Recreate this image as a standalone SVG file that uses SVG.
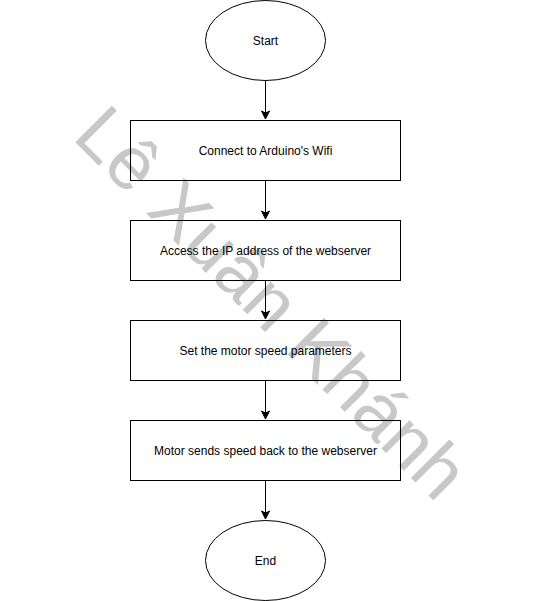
<svg xmlns="http://www.w3.org/2000/svg" width="538" height="601" viewBox="0 0 538 601">
  <style>
    .shape { fill: none; stroke: #000; stroke-width: 1; }
    .label { font-family: "Liberation Sans", Arial, sans-serif; font-size: 12px; fill: #000; text-anchor: middle; dominant-baseline: central; }
    .edge { fill: none; stroke: #000; stroke-width: 1; }
    .wm { font-family: "Liberation Sans", Arial, sans-serif; font-size: 75px; fill: #c8c8c8; }
  </style>
  <defs>
    <marker id="arrow" markerUnits="userSpaceOnUse" markerWidth="12" markerHeight="12" viewBox="-10 -6 12 12" refX="0" refY="0" orient="auto">
      <path d="M0,0 L-8,-4 L-6,0 L-8,4 Z" fill="#000" stroke="#000" stroke-width="1"/>
    </marker>
  </defs>
  <rect width="538" height="601" fill="#fff"/>
  <text class="wm" transform="translate(71,138) rotate(45)">Lê Xuân Khánh</text>
  <g id="connectors">
    <path class="edge" d="M265.5,80.5 V119" marker-end="url(#arrow)"/>
    <path class="edge" d="M265.5,180.5 V219" marker-end="url(#arrow)"/>
    <path class="edge" d="M265.5,280.5 V319" marker-end="url(#arrow)"/>
    <path class="edge" d="M265.5,380.5 V419" marker-end="url(#arrow)"/>
    <path class="edge" d="M265.5,480.5 V519" marker-end="url(#arrow)"/>
  </g>
  <g id="start">
    <ellipse class="shape" cx="265.5" cy="40.5" rx="60" ry="40"/>
    <text class="label" x="265.5" y="41">Start</text>
  </g>
  <g id="connect-wifi">
    <rect class="shape" x="130.5" y="120.5" width="270" height="60"/>
    <text class="label" x="265.5" y="151">Connect to Arduino's Wifi</text>
  </g>
  <g id="access-ip">
    <rect class="shape" x="130.5" y="220.5" width="270" height="60"/>
    <text class="label" x="265.5" y="251">Access the IP address of the webserver</text>
  </g>
  <g id="set-speed">
    <rect class="shape" x="130.5" y="320.5" width="270" height="60"/>
    <text class="label" x="265.5" y="351">Set the motor speed parameters</text>
  </g>
  <g id="motor-sends">
    <rect class="shape" x="130.5" y="420.5" width="270" height="60"/>
    <text class="label" x="265.5" y="451">Motor sends speed back to the webserver</text>
  </g>
  <g id="end">
    <ellipse class="shape" cx="265.5" cy="560.5" rx="60" ry="40"/>
    <text class="label" x="265.5" y="561">End</text>
  </g>
</svg>
